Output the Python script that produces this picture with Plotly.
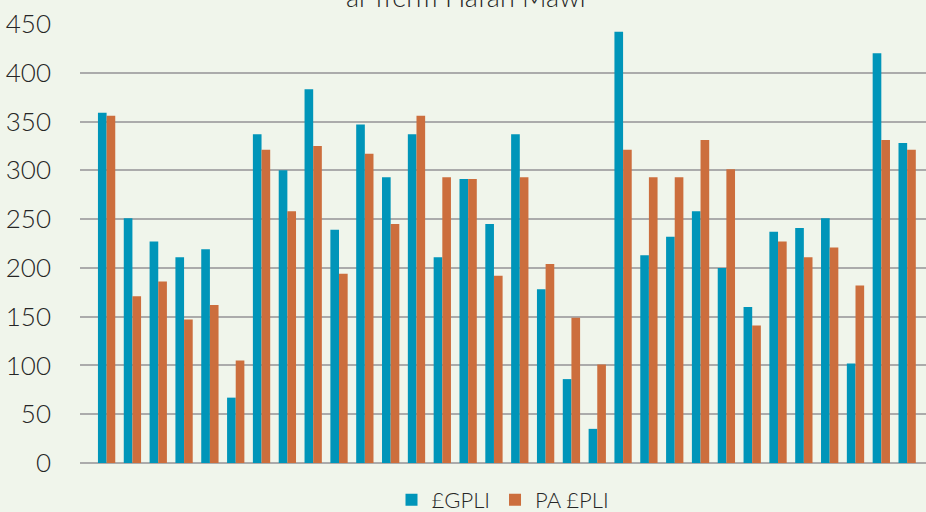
import plotly.graph_objects as go

categories = [str(i) for i in range(1, 33)]
gpli = [359, 251, 227, 211, 219, 67, 337, 300, 383, 239, 347, 293, 337, 211, 291, 245,
        337, 178, 86, 35, 442, 213, 232, 258, 200, 160, 237, 241, 251, 102, 420, 328]
pa_pli = [356, 171, 186, 147, 162, 105, 321, 258, 325, 194, 317, 245, 356, 293, 291, 192,
          293, 204, 149, 101, 321, 293, 293, 331, 301, 141, 227, 211, 221, 182, 331, 321]
y_ticks = [0, 50, 100, 150, 200, 250, 300, 350, 400, 450]
y_tick_text = ["0", "50", "100", "150", "200", "250", "300", "350", "400", "450"]

BG = "#F0F5EB"
FONT = "Lato, 'Open Sans', sans-serif"

fig = go.Figure()
fig.add_trace(go.Bar(x=categories, y=gpli, name="£GPLI", marker_color="#0095B9",
                     marker_line_width=0))
fig.add_trace(go.Bar(x=categories, y=pa_pli, name="PA £PLI", marker_color="#CC6E3D",
                     marker_line_width=0))

fig.update_layout(
    width=926, height=512,
    paper_bgcolor=BG, plot_bgcolor=BG,
    margin=dict(l=80, r=0, t=24, b=49, autoexpand=False),
    barmode="group", bargap=0.33, bargroupgap=0,
    font=dict(family=FONT, color="#262626", weight=300),
    showlegend=True,
    legend=dict(orientation="h", x=0.5, xanchor="center",
                yref="container", y=12 / 512, yanchor="middle",
                font=dict(size=22, color="#262626", weight=300), bgcolor="rgba(0,0,0,0)",
                itemwidth=30, traceorder="normal"),
    xaxis=dict(showticklabels=False, showgrid=False, zeroline=False, showline=False,
               range=[-1.03, 31.73]),
    yaxis=dict(range=[0, 450], tickvals=y_ticks, ticktext=y_tick_text,
               showgrid=True, gridcolor="#ABABAB", gridwidth=2,
               zeroline=True, zerolinecolor="#ABABAB", zerolinewidth=2,
               showline=False, tickfont=dict(size=26, color="#262626", weight=300),
               ticklabelstandoff=28),
    annotations=[dict(text="ar fferm Hafan Mawr", xref="paper", yref="paper",
                      x=(468 - 80) / 846, xanchor="center", y=1 + 27 / 439, yanchor="middle",
                      showarrow=False, font=dict(size=27, color="#262626", weight=300))],
)

fig.write_html("out.html", config={"displayModeBar": False},
               post_script="document.body.style.margin='0';document.body.style.overflow='hidden';")
